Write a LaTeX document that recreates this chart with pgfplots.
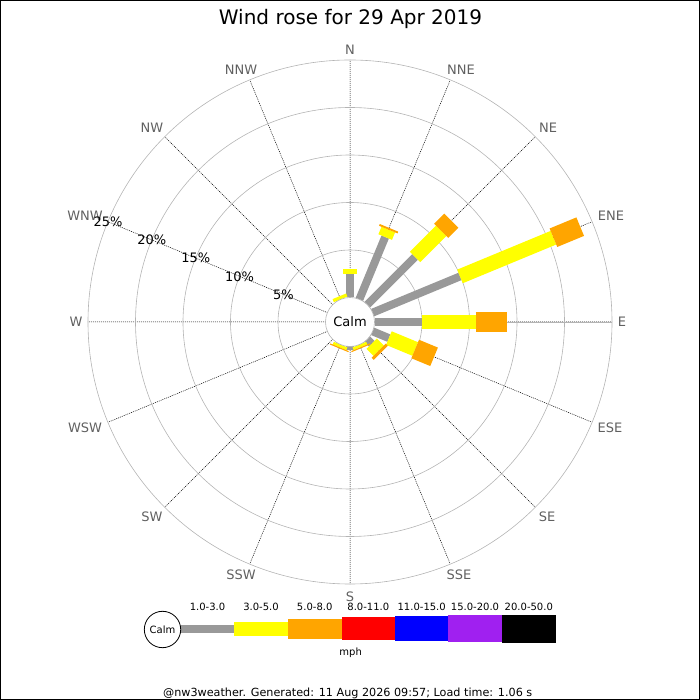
\documentclass[border=0pt]{standalone}
\usepackage{fontspec}
\setmainfont{DejaVu Sans}
\usepackage{pgfplots}
\pgfplotsset{compat=1.18}
\usepgfplotslibrary{polar}

\definecolor{bgray}{RGB}{153,153,153}
\definecolor{byellow}{RGB}{255,255,0}
\definecolor{borange}{RGB}{255,165,0}
\definecolor{bred}{RGB}{255,0,0}
\definecolor{bblue}{RGB}{0,0,255}
\definecolor{bpurple}{RGB}{160,32,240}
\definecolor{ringc}{RGB}{180,180,180}
\definecolor{labc}{RGB}{96,96,96}

\tikzset{
  cmp/.style={font=\fontsize{13}{15}\selectfont, text=labc, inner sep=0pt, text height=9.5pt, text depth=0pt},
  pct/.style={font=\fontsize{13}{15}\selectfont, text=black, inner sep=0pt, text height=9.5pt, text depth=0pt},
  leg/.style={font=\fontsize{10}{12}\selectfont, text=black, inner sep=0pt, text height=7.3pt, text depth=0pt},
}

\begin{document}
\begin{tikzpicture}[x=1pt,y=1pt]
\path[use as bounding box] (0,0) rectangle (700,700);

% radius in the plot = percent + 2.579 (the calm circle's radius)
\begin{polaraxis}[
  at={(350pt,378pt)}, anchor=center,
  scale only axis, width=524pt, height=524pt,
  xmin=0, xmax=360, ymin=0, ymax=27.579,
  xtick={0,22.5,...,337.5},
  ytick={7.579,12.579,17.579,22.579},
  xticklabels={}, yticklabels={},
  major tick length=0pt,
  grid=major,
  x grid style={black, line width=0.5pt, dash pattern=on 1pt off 1pt},
  y grid style={ringc, line width=0.6pt},
  axis line style={ringc, line width=0.6pt},
  y filter/.expression={y+2.579},
  clip=false,
  every axis plot/.append style={mark=none, line cap=butt},
]
% 1.0-3.0 mph
\addplot[bgray, line width=8pt] coordinates {(90,0) (90,2.5)};
\addplot[bgray, line width=8pt] coordinates {(67.5,0) (67.5,7.1)};
\addplot[bgray, line width=8pt] coordinates {(45,0) (45,7.1)};
\addplot[bgray, line width=8pt] coordinates {(22.5,0) (22.5,9.95)};
\addplot[bgray, line width=8pt] coordinates {(0,0) (0,5.0)};
\addplot[bgray, line width=8pt] coordinates {(337.5,0) (337.5,1.85)};
\addplot[bgray, line width=8pt] coordinates {(315,0) (315,0.65)};
\addplot[bgray, line width=8pt] coordinates {(270,0) (270,0.35)};
% 3.0-5.0 mph
\addplot[byellow, line width=14.7pt] coordinates {(90,2.5) (90,3.05)};
\addplot[byellow, line width=14.7pt] coordinates {(67.5,7.1) (67.5,7.95)};
\addplot[byellow, line width=14.7pt] coordinates {(45,7.1) (45,11.0)};
\addplot[byellow, line width=14.7pt] coordinates {(22.5,9.95) (22.5,20.6)};
\addplot[byellow, line width=14.7pt] coordinates {(0,5.0) (0,10.65)};
\addplot[byellow, line width=14.7pt] coordinates {(337.5,1.85) (337.5,4.85)};
\addplot[byellow, line width=14.7pt] coordinates {(315,0.65) (315,1.7)};
\addplot[byellow, line width=14.7pt] coordinates {(292.5,0) (292.5,0.3)};
\addplot[byellow, line width=14.7pt] coordinates {(247.5,0) (247.5,0.3)};
\addplot[byellow, line width=14.7pt] coordinates {(112.5,0) (112.5,0.35)};
% 5.0-8.0 mph
\addplot[borange, line width=20pt] coordinates {(67.5,7.95) (67.5,8.15)};
\addplot[borange, line width=20pt] coordinates {(45,11.0) (45,12.5)};
\addplot[borange, line width=20pt] coordinates {(22.5,20.6) (22.5,23.65)};
\addplot[borange, line width=20pt] coordinates {(0,10.65) (0,13.9)};
\addplot[borange, line width=20pt] coordinates {(337.5,4.85) (337.5,7.0)};
\addplot[borange, line width=20pt] coordinates {(315,1.7) (315,2.0)};
\addplot[borange, line width=20pt] coordinates {(292.5,0.3) (292.5,0.42)};
\addplot[borange, line width=20pt] coordinates {(247.5,0.3) (247.5,0.42)};
\end{polaraxis}

% calm circle
\filldraw[fill=white, draw=ringc, line width=0.6pt] (350,378) circle[radius=24.5];
\node[pct] at (350,378) {Calm};

% title
\node[font=\fontsize{20}{23}\selectfont, anchor=base, inner sep=0pt] at (350.5,675) {Wind rose for 29 Apr 2019};

% compass labels
\node[cmp] at (350,650) {N};
\node[cmp] at (461,630) {NNE};
\node[cmp] at (548,572) {NE};
\node[cmp] at (611,484) {ENE};
\node[cmp] at (622,378) {E};
\node[cmp] at (610,272) {ESE};
\node[cmp] at (547,183) {SE};
\node[cmp] at (459,125) {SSE};
\node[cmp] at (350,103) {S};
\node[cmp] at (241,125) {SSW};
\node[cmp] at (152,183) {SW};
\node[cmp] at (85,272) {WSW};
\node[cmp] at (76,378) {W};
\node[cmp] at (85,484) {WNW};
\node[cmp] at (152,572) {NW};
\node[cmp] at (241,630) {NNW};

% percentage labels along WNW
\node[pct] at ([shift={(350,378)}]157.5:72) {5\%};
\node[pct] at ([shift={(350,378)}]157.5:119.5) {10\%};
\node[pct] at ([shift={(350,378)}]157.5:167) {15\%};
\node[pct] at ([shift={(350,378)}]157.5:214.5) {20\%};
\node[pct] at ([shift={(350,378)}]157.5:262) {25\%};

% legend
\fill[bgray] (181,67) rectangle (234.3,75);
\fill[byellow] (234.3,63.65) rectangle (287.7,78.35);
\fill[borange] (287.7,60.85) rectangle (341.7,81.15);
\fill[bred] (341.7,59.5) rectangle (395,82.5);
\fill[bblue] (395,58.5) rectangle (448.3,83.5);
\fill[bpurple] (448.3,57.5) rectangle (501.7,84.5);
\fill[black] (501.7,56.7) rectangle (556,85.3);
\filldraw[fill=white, draw=black, line width=0.8pt] (162.5,70.5) circle[radius=18.2];
\node[leg] at (162.5,70.5) {Calm};
\node[leg] at (207.5,93) {1.0-3.0};
\node[leg] at (261,93) {3.0-5.0};
\node[leg] at (314.7,93) {5.0-8.0};
\node[leg] at (368.3,93) {8.0-11.0};
\node[leg] at (421.7,93) {11.0-15.0};
\node[leg] at (475,93) {15.0-20.0};
\node[leg] at (528.8,93) {20.0-50.0};
\node[font=\fontsize{10}{12}\selectfont, anchor=base, inner sep=0pt] at (350.7,44) {mph};

% footer
\node[font=\fontsize{11.2}{13}\selectfont, anchor=base, inner sep=0pt] at (347.7,4) {@nw3weather. Generated: 11 Aug 2026 09:57; Load time: 1.06 s};

% frame
\draw[black, line width=1pt] (0.5,0.5) rectangle (699.5,699.5);
\end{tikzpicture}
\end{document}
